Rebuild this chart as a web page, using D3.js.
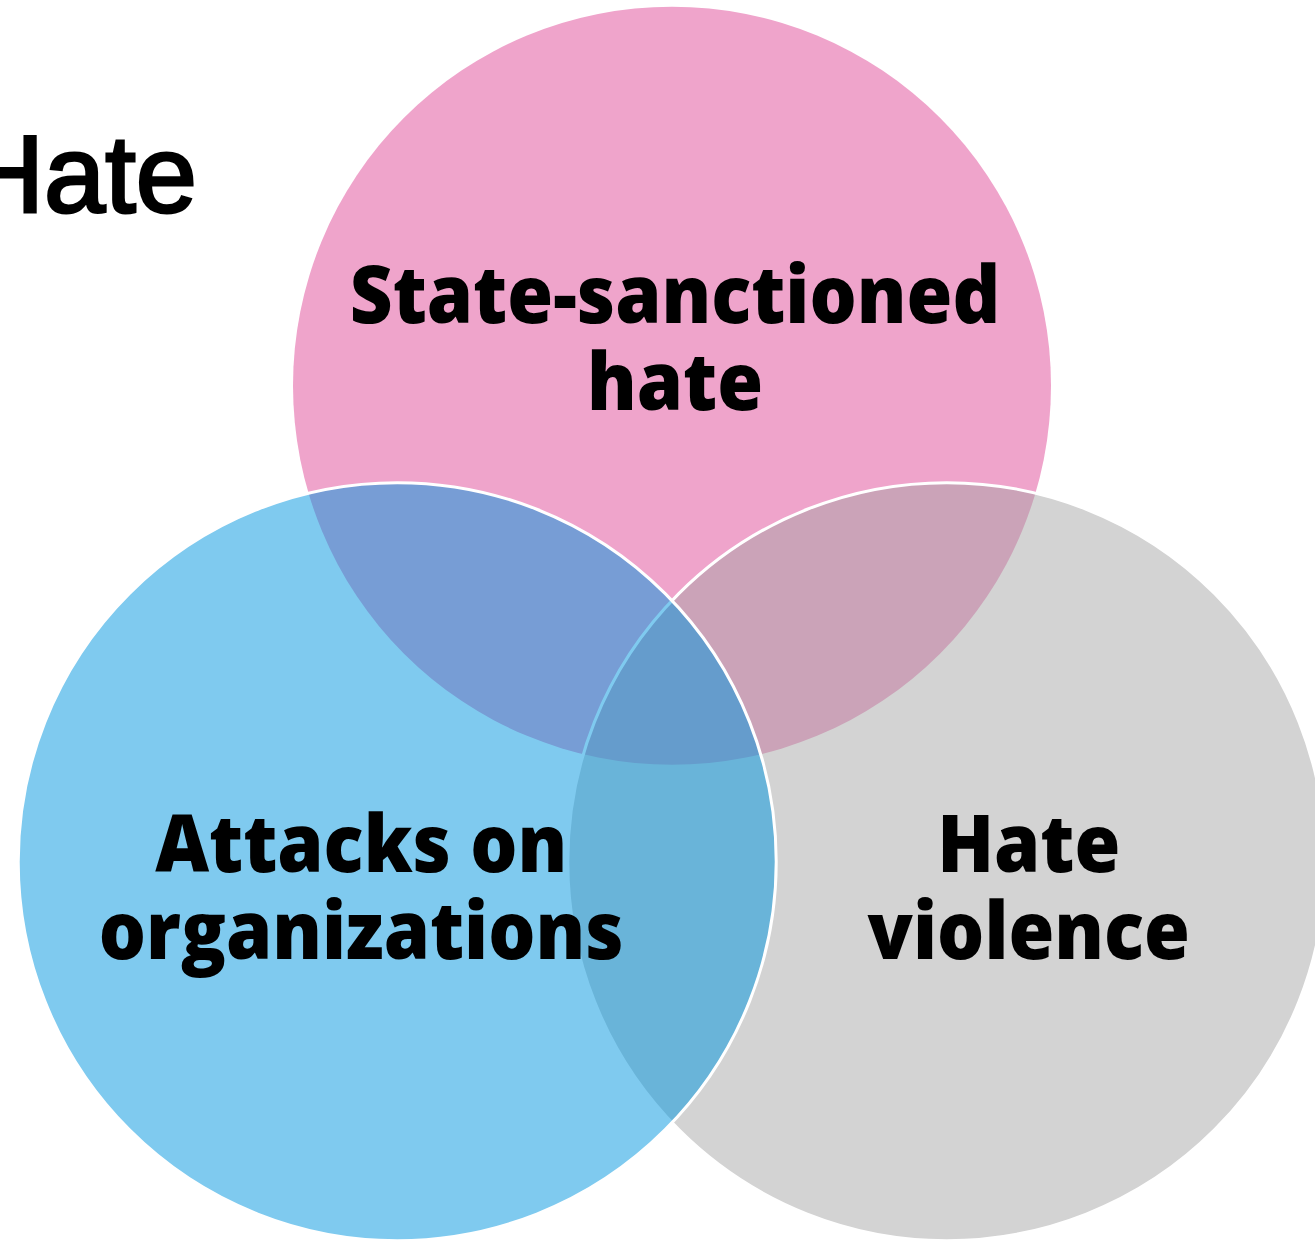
<!DOCTYPE html>
<html>
<head>
<meta charset="utf-8">
<script src="https://cdn.jsdelivr.net/npm/d3@7"></script>
<style>
  html, body { margin: 0; padding: 0; background: #fff; overflow: hidden; }
  svg { display: block; }
</style>
</head>
<body>
<svg id="chart" width="1315" height="1242"></svg>
<script>
// ---- data ----
const sets = ["State-sanctioned hate", "Hate violence", "Attacks on organizations"];
const setSizes = [1, 1, 1];                 // equal-sized sets
const labelLines = [["State-sanctioned", "hate"], ["Hate", "violence"], ["Attacks on", "organizations"]];
const setColors = ["#EFA4CB", "#A3A3A3", "#0096E0"];
const setOpacity = [1, 0.48, 0.5];
const titleText = "Hate";

// ---- layout (abstract units: radius 1, centre distance 1.45) ----
const W = 1315, H = 1242;
const dist = 1.45;
const unitCentres = [
  [0, -dist / Math.sqrt(3)],
  [dist / 2, dist / (2 * Math.sqrt(3))],
  [-dist / 2, dist / (2 * Math.sqrt(3))]
];
const x = d3.scaleLinear().domain([0, 1]).range([672, 672 + 379]);
const y = d3.scaleLinear().domain([0, 1]).range([703, 703 + 379]);
const rScale = d3.scaleSqrt().domain([0, 1]).range([0, 379]);

const circles = sets.map((s, i) => ({
  name: s,
  cx: x(unitCentres[i][0]),
  cy: y(unitCentres[i][1]),
  r: rScale(setSizes[i]),
  color: setColors[i],
  opacity: setOpacity[i],
  lines: labelLines[i]
}));

const svg = d3.select("#chart");

svg.append("text")
  .attr("x", 197).attr("y", 212)
  .attr("text-anchor", "end")
  .style("font-family", "'Liberation Sans', Arial, sans-serif")
  .style("font-size", "110px")
  .attr("fill", "#000")
  .attr("stroke", "#000")
  .attr("stroke-width", 3)
  .text(titleText);

svg.selectAll("circle.set")
  .data(circles)
  .join("circle")
  .attr("class", "set")
  .attr("cx", d => d.cx)
  .attr("cy", d => d.cy)
  .attr("r", d => d.r)
  .attr("fill", d => d.color)
  .attr("fill-opacity", d => d.opacity)
  .attr("stroke", (d, i) => i === 0 ? "none" : "#fff")
  .attr("stroke-width", 3);

// label offsets relative to circle centres (in px)
const labelOffsets = [[3, -63], [82, 10], [-36, 10]];
const lineGap = 87;
const condense = 0.94;

const labels = svg.selectAll("g.label")
  .data(circles)
  .join("g")
  .attr("class", "label");

labels.each(function(d, i) {
  const g = d3.select(this);
  d.lines.forEach((ln, j) => {
    const tx = d.cx + labelOffsets[i][0];
    const ty = d.cy + labelOffsets[i][1] + j * lineGap;
    g.append("text")
      .attr("text-anchor", "middle")
      .attr("transform", `translate(${tx},${ty}) scale(${condense},1)`)
      .style("font-family", "'Open Sans', sans-serif")
      .style("font-weight", 800)
      .style("font-size", "79px")
      .attr("fill", "#000")
      .text(ln);
  });
});
</script>
</body>
</html>
